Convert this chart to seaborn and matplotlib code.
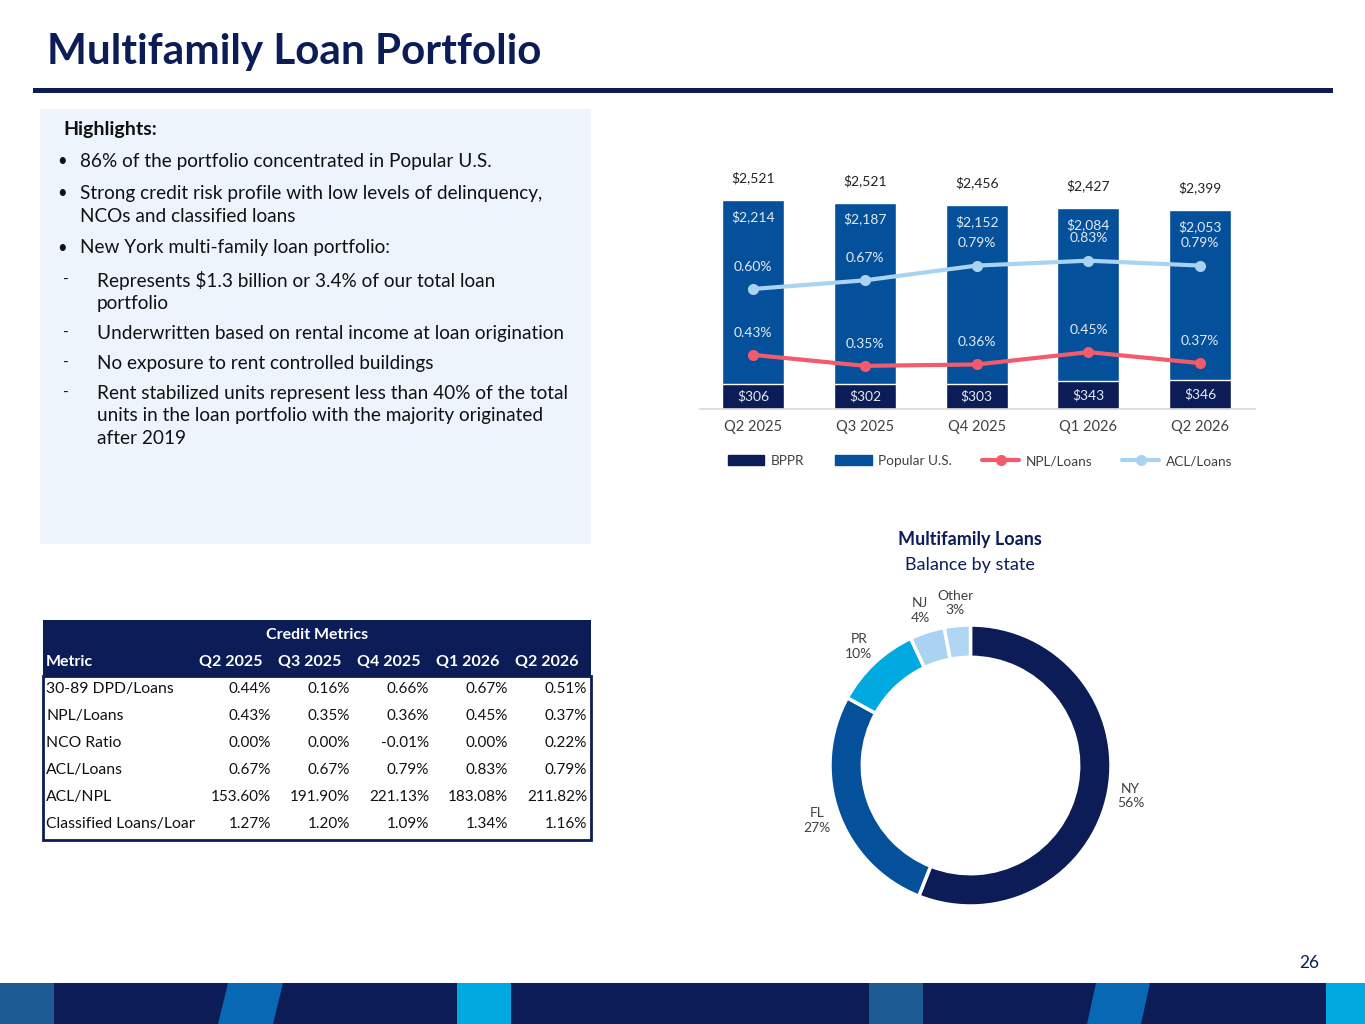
import matplotlib
matplotlib.use("Agg")
import matplotlib.pyplot as plt
import seaborn as sns
from matplotlib.patches import Rectangle, Polygon
from matplotlib.lines import Line2D
from matplotlib.transforms import Bbox, TransformedBbox

# ---- data ----
quarters = ["Q2 2025", "Q3 2025", "Q4 2025", "Q1 2026", "Q2 2026"]
bppr = [306, 302, 303, 343, 346]
popular_us = [2214, 2187, 2152, 2084, 2053]
total_labels = ["$2,521", "$2,521", "$2,456", "$2,427", "$2,399"]
npl_loans = [0.43, 0.35, 0.36, 0.45, 0.37]
acl_loans = [0.60, 0.67, 0.79, 0.83, 0.79]

states = ["NY", "FL", "PR", "NJ", "Other"]
state_share = [56, 27, 10, 4, 3]

metric_names = ["30-89 DPD/Loans", "NPL/Loans", "NCO Ratio", "ACL/Loans",
                "ACL/NPL", "Classified Loans/Loans"]
metric_values = [
    ["0.44%", "0.16%", "0.66%", "0.67%", "0.51%"],
    ["0.43%", "0.35%", "0.36%", "0.45%", "0.37%"],
    ["0.00%", "0.00%", "-0.01%", "0.00%", "0.22%"],
    ["0.67%", "0.67%", "0.79%", "0.83%", "0.79%"],
    ["153.60%", "191.90%", "221.13%", "183.08%", "211.82%"],
    ["1.27%", "1.20%", "1.09%", "1.34%", "1.16%"],
]

highlights = [
    ("bullet", ["86% of the portfolio concentrated in Popular U.S."]),
    ("bullet", ["Strong credit risk profile with low levels of delinquency,",
                "NCOs and classified loans"]),
    ("bullet", ["New York multi-family loan portfolio:"]),
    ("dash", ["Represents $1.3 billion or 3.4% of our total loan", "portfolio"]),
    ("dash", ["Underwritten based on rental income at loan origination"]),
    ("dash", ["No exposure to rent controlled buildings"]),
    ("dash", ["Rent stabilized units represent less than 40% of the total",
              "units in the loan portfolio with the majority originated",
              "after 2019"]),
]

NAVY = "#0c1c57"
BLUE = "#04509a"
CYAN = "#00a9e0"
LIGHT = "#a9d3f1"
RED = "#f15b6b"
BOXBG = "#edf4fc"
INBAR = "#e3eaf3"
GREY = "#404040"

sns.set_theme(style="white")
plt.rcParams["font.family"] = ["Lato", "DejaVu Sans"]

W, H = 1365, 1024
fig = plt.figure(figsize=(W / 100, H / 100), dpi=100)


def frac(x0, y0, x1, y1):
    return [x0 / W, 1 - y1 / H, (x1 - x0) / W, (y1 - y0) / H]


# background canvas in pixel coordinates
bg = fig.add_axes([0, 0, 1, 1])
bg.set_xlim(0, W)
bg.set_ylim(H, 0)
bg.axis("off")

# ---- title & rule ----
bg.text(47, 52, "Multifamily Loan Portfolio", fontsize=30.4, fontweight="bold",
        color=NAVY, va="center", ha="left")
bg.add_patch(Rectangle((33, 88), 1300, 5, color=NAVY, lw=0))

# ---- highlights box ----
bg.add_patch(Rectangle((40, 109), 551, 435, color=BOXBG, lw=0))
bg.text(63, 129, "Highlights:", fontsize=14, fontweight="bold", color="#111111",
        va="center")
y = 161
for kind, lines in highlights:
    if kind == "bullet":
        bg.text(57, y, "\u2022", fontsize=12, color="#111111", va="center")
        tx = 80
    else:
        bg.text(63, y, "-", fontsize=11, color="#111111", va="center")
        tx = 97
    for j, line in enumerate(lines):
        bg.text(tx, y + j * 23, line, fontsize=13.7, color="#111111", va="center")
    y += (len(lines) - 1) * 23 + 30 + (2 if kind == "bullet" else 0)

# ---- credit metrics table ----
tx0, tx1 = 43, 591
bg.add_patch(Rectangle((tx0, 620), tx1 - tx0, 56, color=NAVY, lw=0))
bg.add_patch(Rectangle((tx0, 676), tx1 - tx0, 164, facecolor="white",
                       edgecolor=NAVY, lw=2))
bg.text((tx0 + tx1) / 2, 635, "Credit Metrics", fontsize=11.5, fontweight="bold",
        color="white", ha="center", va="center")
bg.text(46, 662, "Metric", fontsize=11.5, fontweight="bold", color="white",
        va="center")
col_right = [271, 350, 429, 508, 587]
for q, xr in zip(quarters, col_right):
    bg.text(xr - 40, 662, q, fontsize=11.5, fontweight="bold", color="white",
            ha="center", va="center")
# first column is cut off at its right edge, as in the slide
name_clip = TransformedBbox(Bbox.from_extents(tx0, 676, 195, 840), bg.transData)
for r, (name, vals) in enumerate(zip(metric_names, metric_values)):
    ry = 689 + r * 27
    t = bg.text(46, ry, name, fontsize=11.3, color="#111111", va="center")
    t.set_clip_box(name_clip)
    t.set_clip_on(True)
    for v, xr in zip(vals, col_right):
        bg.text(xr, ry, v, fontsize=11, color="#111111", ha="right", va="center")

# ---- bar chart ----
bg.text(973, 134, "Multifamily Loans", fontsize=13, fontweight="bold", color=NAVY,
        ha="center", va="center")
bg.text(973, 160, "($ in millions)", fontsize=13, color=NAVY, ha="center",
        va="center")

ax = fig.add_axes(frac(700, 110, 1255, 409))
totals = [b + p for b, p in zip(bppr, popular_us)]
sns.barplot(x=quarters, y=totals, color=BLUE, saturation=1, width=0.555, ax=ax)
sns.barplot(x=quarters, y=bppr, color=NAVY, saturation=1, width=0.555, ax=ax)
ax.set_ylim(0, 299 / 0.08294)
ax.set_yticks([])
ax.set_xlabel("")
ax.set_ylabel("")
for s in ["top", "left", "right"]:
    ax.spines[s].set_visible(False)
ax.spines["bottom"].set_color("#d9d9d9")
ax.spines["bottom"].set_linewidth(1.2)
ax.tick_params(axis="x", length=0, pad=8, labelsize=10.5, labelcolor=GREY)

for i in range(len(quarters)):
    ax.annotate(total_labels[i], (i, totals[i]), xytext=(0, 16),
                textcoords="offset points", ha="center", va="center",
                fontsize=10, color="#222222")
    ax.annotate(f"${popular_us[i]:,}", (i, totals[i]), xytext=(0, -12),
                textcoords="offset points", ha="center", va="center",
                fontsize=10, color=INBAR)
    ax.text(i, bppr[i] / 2, f"${bppr[i]:,}", ha="center", va="center",
            fontsize=10, color=INBAR)

axn = ax.twinx()
sns.lineplot(x=list(range(5)), y=npl_loans, ax=axn, color=RED, lw=3,
             marker="o", markersize=8, markeredgewidth=0)
axn.set_ylim(0.035, 2.2175)
axa = ax.twinx()
sns.lineplot(x=list(range(5)), y=acl_loans, ax=axa, color=LIGHT, lw=3,
             marker="o", markersize=8, markeredgewidth=0)
axa.set_ylim(-0.376, 2.055)
for a, vals in [(axn, npl_loans), (axa, acl_loans)]:
    a.axis("off")
    for i, v in enumerate(vals):
        a.annotate(f"{v:.2f}%", (i, v), xytext=(0, 16), textcoords="offset points",
                   ha="center", va="center", fontsize=10, color=INBAR)
ax.set_xlim(-0.475, 4.49)

handles = [
    Rectangle((0, 0), 1, 1, color=NAVY),
    Rectangle((0, 0), 1, 1, color=BLUE),
    Line2D([], [], color=RED, lw=3, marker="o", markersize=7),
    Line2D([], [], color=LIGHT, lw=3, marker="o", markersize=7),
]
fig.legend(handles, ["BPPR", "Popular U.S.", "NPL/Loans", "ACL/Loans"],
           loc="center", bbox_to_anchor=(980 / W, 1 - 461 / H), ncol=4,
           frameon=False, fontsize=9.8, handlelength=2.7, handleheight=0.8,
           columnspacing=2.2, handletextpad=0.5, labelcolor=GREY)

# ---- donut ----
bg.text(970, 539, "Multifamily Loans", fontsize=13, fontweight="bold", color=NAVY,
        ha="center", va="center")
bg.text(970, 565, "Balance by state", fontsize=13, color=NAVY, ha="center",
        va="center")
cx, cy, r = 970.5, 765.5, 140.5
axp = fig.add_axes(frac(cx - 200, cy - 200, cx + 200, cy + 200))
wedges, texts = axp.pie(
    state_share, labels=[f"{s}\n{v}%" for s, v in zip(states, state_share)],
    colors=[NAVY, BLUE, CYAN, LIGHT, "#b0d6f3"], startangle=90, counterclock=False,
    labeldistance=1.16, wedgeprops=dict(width=0.23, edgecolor="white", linewidth=2.5),
    textprops=dict(fontsize=10, color=GREY, linespacing=1.25))
for t in texts:
    t.set_ha("center")
    t.set_va("center")
lim = 200 / r
axp.set_xlim(-lim, lim)
axp.set_ylim(-lim, lim)
axp.set_aspect("equal")
axp.axis("off")

# ---- page number & footer ----
bg.text(1309, 963, "26", fontsize=12.5, color=NAVY, ha="center", va="center")
bg.add_patch(Rectangle((0, 983), W, 41, color=NAVY, lw=0))
stripes = [
    ([(0, 983), (54, 983), (54, 1024), (0, 1024)], "#1c5a94"),
    ([(228, 983), (283, 983), (273, 1024), (218, 1024)], "#0868b3"),
    ([(457, 983), (511, 983), (511, 1024), (457, 1024)], CYAN),
    ([(869, 983), (923, 983), (923, 1024), (869, 1024)], "#1c5a94"),
    ([(1096, 983), (1150, 983), (1141, 1024), (1087, 1024)], "#0868b3"),
    ([(1326, 983), (1365, 983), (1365, 1024), (1326, 1024)], CYAN),
]
for pts, c in stripes:
    bg.add_patch(Polygon(pts, closed=True, color=c, lw=0))

fig.savefig("out.png", dpi=100)
